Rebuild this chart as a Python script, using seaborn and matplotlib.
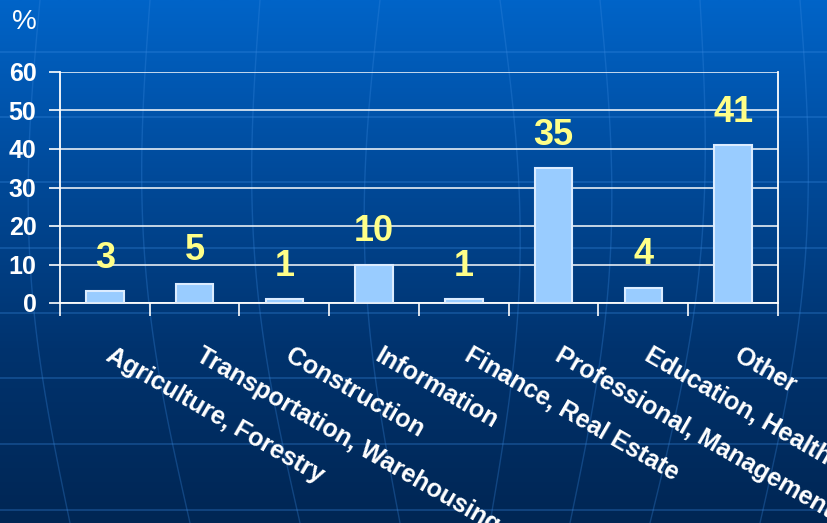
import numpy as np
import pandas as pd
import matplotlib
matplotlib.use("Agg")
import matplotlib.pyplot as plt
from matplotlib.colors import LinearSegmentedColormap
from matplotlib.ticker import FixedLocator
import seaborn as sns

# Data
categories = ["Agriculture, Forestry", "Transportation, Warehousing", "Construction",
              "Information", "Finance, Real Estate", "Professional, Management",
              "Education, Health", "Other"]
values = [3, 5, 1, 10, 1, 35, 4, 41]
yticks = [0, 10, 20, 30, 40, 50, 60]

df = pd.DataFrame({"sector": categories, "pct": values})

sns.set_theme(style="white")
plt.rcParams['font.family'] = ['Liberation Sans', 'DejaVu Sans']

fig = plt.figure(figsize=(8.28, 5.23), dpi=100)

# Background gradient with faint globe lines
bg = fig.add_axes([0, 0, 1, 1])
cmap = LinearSegmentedColormap.from_list("bgblue", ["#0064c8", "#004a9a", "#00336e", "#002654"])
grad = np.linspace(0, 1, 256).reshape(-1, 1)
bg.imshow(grad, aspect="auto", cmap=cmap, extent=[0, 828, 523, 0])
for yy in [52, 117, 182, 248, 313, 378, 444, 510]:
    bg.axhline(yy, color="#3a8ae0", lw=1.2, alpha=0.35)
for x0, x1 in [(-60, -20), (40, 70), (150, 190), (260, 300), (380, 400), (500, 490),
               (600, 570), (700, 650), (800, 760)]:
    ys = np.linspace(0, 523, 50)
    xs = x0 + (x1 - x0) * (ys / 523) + 25 * np.sin(np.pi * ys / 523) * np.sign(x0 - 414)
    bg.plot(xs, ys, color="#3a8ae0", lw=1.0, alpha=0.3)
bg.set_xlim(0, 828)
bg.set_ylim(523, 0)
bg.axis("off")

ax = fig.add_axes([60 / 828, 1 - 303 / 523, 718 / 828, 231 / 523])
ax.patch.set_alpha(0)
sns.barplot(data=df, x="sector", y="pct", ax=ax, color="#99ccff", width=0.42,
            edgecolor="#dcecff", linewidth=1.5, saturation=1, zorder=3)

ax.set_ylim(0, 60)
ax.set_xlim(-0.5, len(categories) - 0.5)
ax.set_yticks(yticks)
ax.yaxis.grid(True, color="white", lw=1.2, alpha=0.9, zorder=0)
ax.set_axisbelow(True)

for s in ["left", "right", "bottom"]:
    ax.spines[s].set_visible(True)
    ax.spines[s].set_color("white")
    ax.spines[s].set_linewidth(1.3)
ax.spines["top"].set_visible(False)

ax.tick_params(axis="y", colors="white", length=8, width=1.2, direction="out",
               labelsize=18, pad=9, left=True)
for lab in ax.get_yticklabels():
    lab.set_fontweight("bold")

ax.xaxis.set_minor_locator(FixedLocator(np.arange(-0.5, len(categories), 1.0)))
ax.tick_params(axis="x", which="minor", colors="white", length=9, width=1.2, bottom=True)
ax.tick_params(axis="x", which="major", length=0, pad=29, labelcolor="white")
ax.set_xticks(np.arange(len(categories)) + 0.1)
ax.set_xticklabels(categories, rotation=-30, ha="left", va="top",
                   rotation_mode="anchor", fontsize=18, fontweight="bold")

ax.bar_label(ax.containers[0], labels=[str(v) for v in values], padding=11,
             color="#ffff88", fontsize=26, fontweight="bold")

ax.set_xlabel("")
ax.set_ylabel("")
fig.text(12 / 828, 1 - 22 / 523, "%", color="white", fontsize=20, va="center", ha="left")

fig.savefig("out.png", dpi=100)
